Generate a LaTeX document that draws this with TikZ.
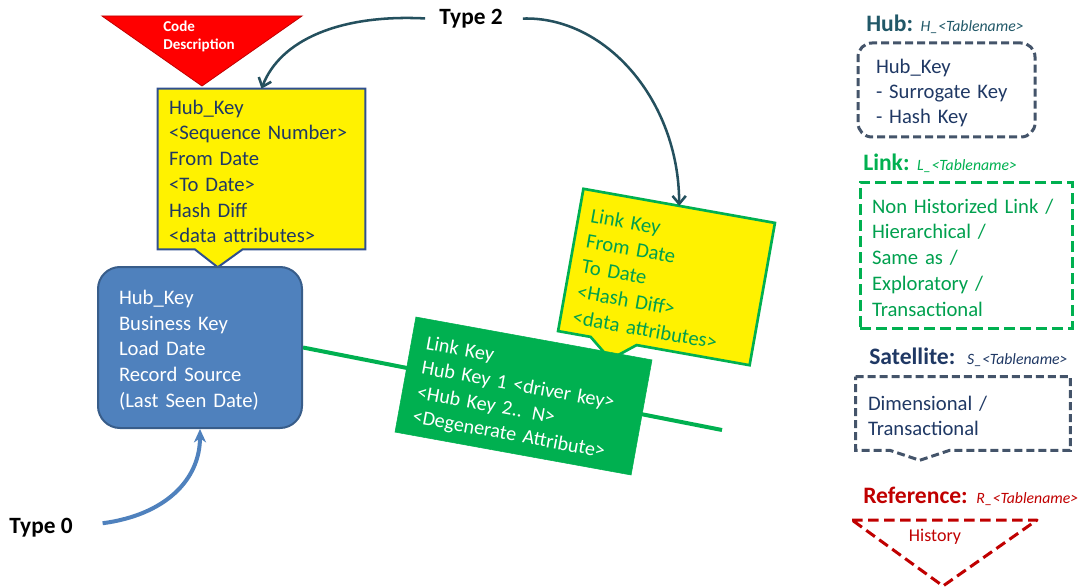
\documentclass[tikz,border=0pt]{standalone}
\usepackage{fontspec}
\setmainfont{Carlito}
\usetikzlibrary{arrows.meta,calc,backgrounds}

\definecolor{hubblue}{HTML}{4F81BD}
\definecolor{hubedge}{HTML}{385D8A}
\definecolor{navy}{HTML}{1F3864}
\definecolor{satedge}{HTML}{2F4F8F}
\definecolor{lgreen}{HTML}{00B050}
\definecolor{lgtext}{HTML}{00A04E}
\definecolor{hubteal}{HTML}{215868}
\definecolor{arrowteal}{HTML}{24505E}
\definecolor{slate}{HTML}{44546A}
\definecolor{refred}{HTML}{C00000}
\definecolor{codered}{HTML}{FF0000}

\begin{document}
\begin{tikzpicture}[x=0.75pt,y=-0.75pt,
  body/.style={font=\fontsize{15.5}{19.3}\selectfont, align=left, inner ysep=0pt,
               execute at begin node={\rule{0pt}{14.5pt}}},
  codetext/.style={font=\bfseries\fontsize{11.3}{13.5}\selectfont, text=white, align=left, inner sep=0pt},
  typelabel/.style={font=\bfseries\fontsize{17.5}{20}\selectfont, text=black, inner sep=0pt},
  legtitle/.style={font=\bfseries\fontsize{17.7}{20}\selectfont, inner sep=0pt},
  legsub/.style={font=\itshape\fontsize{11.8}{14}\selectfont, inner sep=0pt},
  typetwo/.style={draw=arrowteal, line width=1.9pt, -{Straight Barb[length=6pt,width=10pt]}},
  typezero/.style={draw=hubblue, line width=3pt, -{Stealth[length=10pt,width=9pt,inset=3pt]}},
  shortdash/.style={dash pattern=on 6pt off 3pt, line width=2.25pt},
  longdash/.style={dash pattern=on 8pt off 4pt, line width=2.25pt}]
\useasboundingbox (0,0) rectangle (1080,588);

% code / description marker
\coordinate (cdl) at (102,16);
\coordinate (cdr) at (302,16);
\coordinate (cdb) at (202,86);
\draw[fill=codered, draw=refred, line width=0.6pt] (cdl) -- (cdr) -- (cdb) -- cycle;
\node[codetext, anchor=west] (code) at (163,36.5) {Code\\Description};

% hub satellite (callout pointing at the hub)
\node[body, text=navy, text width=138.75pt, inner xsep=8.25pt,
      minimum width=155.25pt, minimum height=120pt] (hsat) at (261.5,169)
  {Hub\_Key\\<Sequence Number>\\From Date\\<To Date>\\Hash Diff\\<data attributes>};
\begin{scope}[on background layer]
  \draw[fill=yellow, draw=satedge, line width=1.5pt]
    (hsat.north west) -- (hsat.north east) -- (hsat.south east)
    -- ($(hsat.south west)+(85,0)$) -- ($(hsat.south west)+(60,18)$)
    -- ($(hsat.south west)+(37,0)$) -- (hsat.south west) -- cycle;
\end{scope}

% hub
\node[body, text=white, fill=hubblue, draw=hubedge, line width=1.5pt,
      rounded corners=16.5pt, text width=121.5pt, inner xsep=15.75pt,
      minimum width=153pt, minimum height=120.75pt] (hub) at (200,347.5)
  {Hub\_Key\\Business Key\\Load Date\\Record Source\\(Last Seen Date)};

% link line through the link box
\coordinate (lend) at (722,430);
\draw[lgreen, line width=3pt] (hub.east) -- (lend);

% link
\begin{scope}[shift={(523.5,396)}, rotate=-10.3]
  \node[body, transform shape, text=white, fill=lgreen, draw=lgreen,
        font=\fontsize{15.1}{18.7}\selectfont,
        execute at begin node={\rule{0pt}{16pt}},
        text width=157.5pt, inner xsep=11.25pt,
        minimum width=180pt, minimum height=87.75pt] (link) at (0,0)
    {Link Key\\Hub Key 1 <driver key>\\<Hub Key 2.. N>\\<Degenerate Attribute>};
\end{scope}

% link satellite (callout pointing at the link)
\begin{scope}[shift={(666.5,277)}, rotate=-10.1]
  \node[body, transform shape, text=lgtext, text width=127.5pt, inner xsep=9pt,
        execute at begin node={\rule{0pt}{16.5pt}},
        minimum width=145.5pt, minimum height=108pt] (lsat) at (0,0)
    {Link Key\\From Date\\To Date\\<Hash Diff>\\<data attributes>};
  \coordinate (lsattip) at (-41,91);
\end{scope}
\begin{scope}[on background layer]
  \draw[fill=yellow, draw=lgreen, line width=2pt]
    (lsat.north west) -- (lsat.north east) -- (lsat.south east)
    -- ($(lsat.south west)!0.41!(lsat.south east)$) -- (lsattip)
    -- ($(lsat.south west)!0.17!(lsat.south east)$) -- (lsat.south west) -- cycle;
\end{scope}

% change types
\node[typelabel, anchor=base] (t2) at (471,25) {Type 2};
\node[typelabel, anchor=base] (t0) at (41,533) {Type 0};
\draw[typetwo, shorten <=10.5pt] (t2.west) .. controls (340,14) and (280,40) .. (hsat.north);
\draw[typetwo, shorten <=15pt] (t2.east) .. controls (605,16) and (679,100) .. (lsat.north);
\draw[typezero, shorten <=22.5pt] (t0.east) .. controls (165,515) and (200,480) .. (hub.south);

% legend: hub
\node[legtitle, text=hubteal, anchor=base west] (hubt) at (866,32) {Hub:};
\node[legsub, text=hubteal, anchor=base west] (hubs) at ([xshift=5.25pt]hubt.base east) {H\_<Tablename>};
\node[body, text=navy, draw=slate, shortdash, rounded corners=10.5pt,
      font=\fontsize{15.5}{18.75}\selectfont,
      execute at begin node={\rule{0pt}{15.5pt}},
      text width=105.75pt, inner xsep=13.5pt,
      minimum width=132.75pt, minimum height=70.5pt] (hubleg) at (946.5,90)
  {Hub\_Key\\- Surrogate Key\\- Hash Key};

% legend: link
\node[legtitle, text=lgreen, anchor=base west] (linkt) at (863,171) {Link:};
\node[legsub, text=lgreen, anchor=base west] (links) at ([xshift=5.25pt]linkt.base east) {L\_<Tablename>};
\node[body, text=lgtext, draw=lgreen, longdash,
      text width=141pt, inner xsep=9pt,
      minimum width=159pt, minimum height=109.5pt] (linkleg) at (966,255)
  {Non Historized Link /\\Hierarchical /\\Same as /\\Exploratory /\\Transactional};

% legend: satellite
\node[legtitle, text=navy, anchor=base west] (satt) at (869,364) {Satellite:};
\node[legsub, text=navy, anchor=base west] (sats) at ([xshift=8.5pt]satt.base east) {S\_<Tablename>};
\node[body, text=navy, text width=142.5pt, inner xsep=9pt,
      minimum width=160.5pt, minimum height=54.75pt] (satleg) at (963,413.5)
  {Dimensional /\\Transactional};
\draw[draw=slate, shortdash]
  (satleg.north west) -- (satleg.north east) -- (satleg.south east)
  -- ($(satleg.south west)+(94,0)$) -- ($(satleg.south west)+(64,10)$)
  -- ($(satleg.south west)+(34,0)$) -- (satleg.south west) -- cycle;

% legend: reference
\node[legtitle, text=refred, anchor=base west] (reft) at (863,503) {Reference:};
\node[legsub, text=refred, anchor=base west] (refs) at ([xshift=6pt]reft.base east) {R\_<Tablename>};
\coordinate (rtl) at (852,520);
\coordinate (rtr) at (1037,520);
\coordinate (rtb) at (943,586);
\draw[draw=refred, longdash, line join=round] (rtl) -- (rtr) -- (rtb) -- cycle;
\node[font=\fontsize{13.5}{16}\selectfont, text=refred, inner sep=0pt] (refh) at (935,537) {History};

\end{tikzpicture}
\end{document}
